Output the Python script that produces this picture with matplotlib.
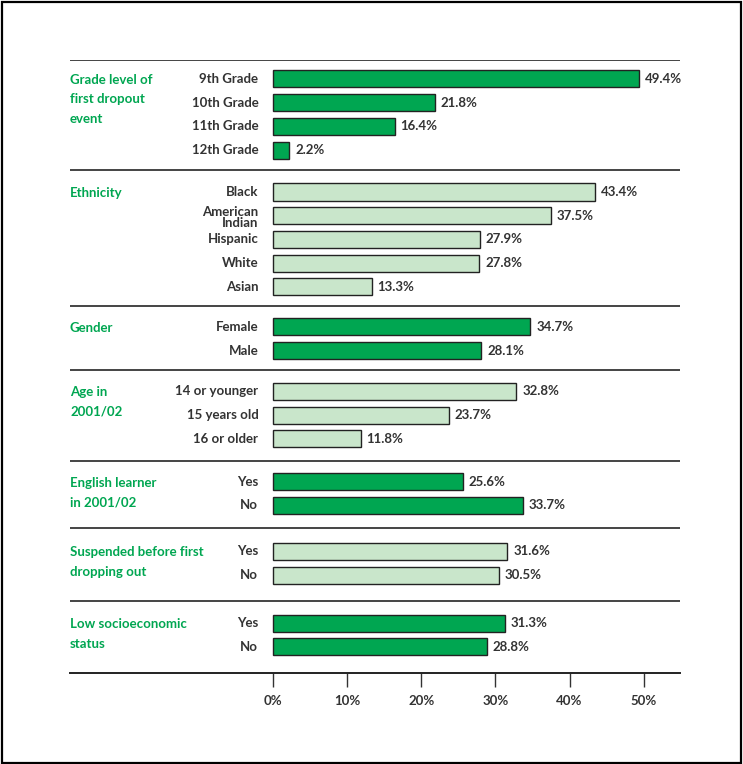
import numpy as np
import matplotlib
matplotlib.use('Agg')
import matplotlib.pyplot as plt
from matplotlib.patches import Rectangle

plt.rcParams['font.family'] = ['Lato', 'DejaVu Sans']

# dropout rates by group (percent)
groups = ['Grade level of\nfirst dropout\nevent', 'Ethnicity', 'Gender',
          'Age in\n2001/02', 'English learner\nin 2001/02',
          'Suspended before first\ndropping out', 'Low socioeconomic\nstatus']
categories = [
    ['9th Grade', '10th Grade', '11th Grade', '12th Grade'],
    ['Black', 'American\nIndian', 'Hispanic', 'White', 'Asian'],
    ['Female', 'Male'],
    ['14 or younger', '15 years old', '16 or older'],
    ['Yes', 'No'],
    ['Yes', 'No'],
    ['Yes', 'No'],
]
values = [
    [49.4, 21.8, 16.4, 2.2],
    [43.4, 37.5, 27.9, 27.8, 13.3],
    [34.7, 28.1],
    [32.8, 23.7, 11.8],
    [25.6, 33.7],
    [31.6, 30.5],
    [31.3, 28.8],
]
dark = [True, False, True, False, True, False, True]
ticks = [0, 10, 20, 30, 40, 50]

DARK = '#00a651'
LIGHT = '#c9e6cb'
TXT = '#333333'
FS = 9.5
# spacing (in rows) from the last bar of a group to the next group's first bar,
# and from that last bar to the rule below it
gaps = [1.77, 1.69, 1.73, 1.81, 1.94, 2.03]
rule_off = [0.84, 0.80, 0.84, 0.93, 0.93, 1.10]

fig = plt.figure(figsize=(7.43, 7.64), dpi=100)
fig.patches.append(Rectangle((2 / 743, 1 / 764), 739 / 743, 761 / 764,
                             transform=fig.transFigure, fill=False,
                             edgecolor='black', linewidth=1.6))

ax = fig.add_axes([70 / 743, 91 / 764, 610 / 743, 613 / 764])

y = 0.0
seps = []
for g, (name, cats, vals, dk) in enumerate(zip(groups, categories, values, dark)):
    ys = y + np.arange(len(vals))
    ax.barh(ys, vals, height=0.72, color=DARK if dk else LIGHT,
            edgecolor='#222222', linewidth=1.0)
    for yy, c, v in zip(ys, cats, vals):
        ax.text(-2.0, yy + (0.08 if '\n' in c else 0), c, ha='right',
                va='center', fontsize=FS, fontweight='bold', color=TXT,
                linespacing=0.95)
        ax.text(v + 0.8, yy, f'{v:.1f}%', ha='left', va='center',
                fontsize=FS, fontweight='bold', color=TXT)
    ax.text(-27.4, y - 0.22, name, ha='left', va='top', fontsize=FS,
            fontweight='bold', color=DARK, linespacing=1.75)
    last = ys[-1]
    if g < len(groups) - 1:
        seps.append(last + rule_off[g])
        y = last + gaps[g]

top = -0.8
bottom = last + 1.1
for s in [top] + seps:
    ax.axhline(s, color='#444444', linewidth=1.4)

ax.set_xlim(-27.4, 54.9)
ax.set_ylim(bottom, top)
ax.set_yticks([])
ax.set_xticks(ticks)
ax.set_xticklabels([f'{t}%' for t in ticks], fontsize=FS,
                   fontweight='bold', color=TXT)
ax.tick_params(axis='x', length=10, width=1, color='#333333', pad=6)
for side in ['top', 'right', 'left']:
    ax.spines[side].set_visible(False)
ax.spines['bottom'].set_color('#222222')
ax.spines['bottom'].set_linewidth(1.4)
ax.patch.set_visible(False)

fig.savefig('out.png', dpi=100)
